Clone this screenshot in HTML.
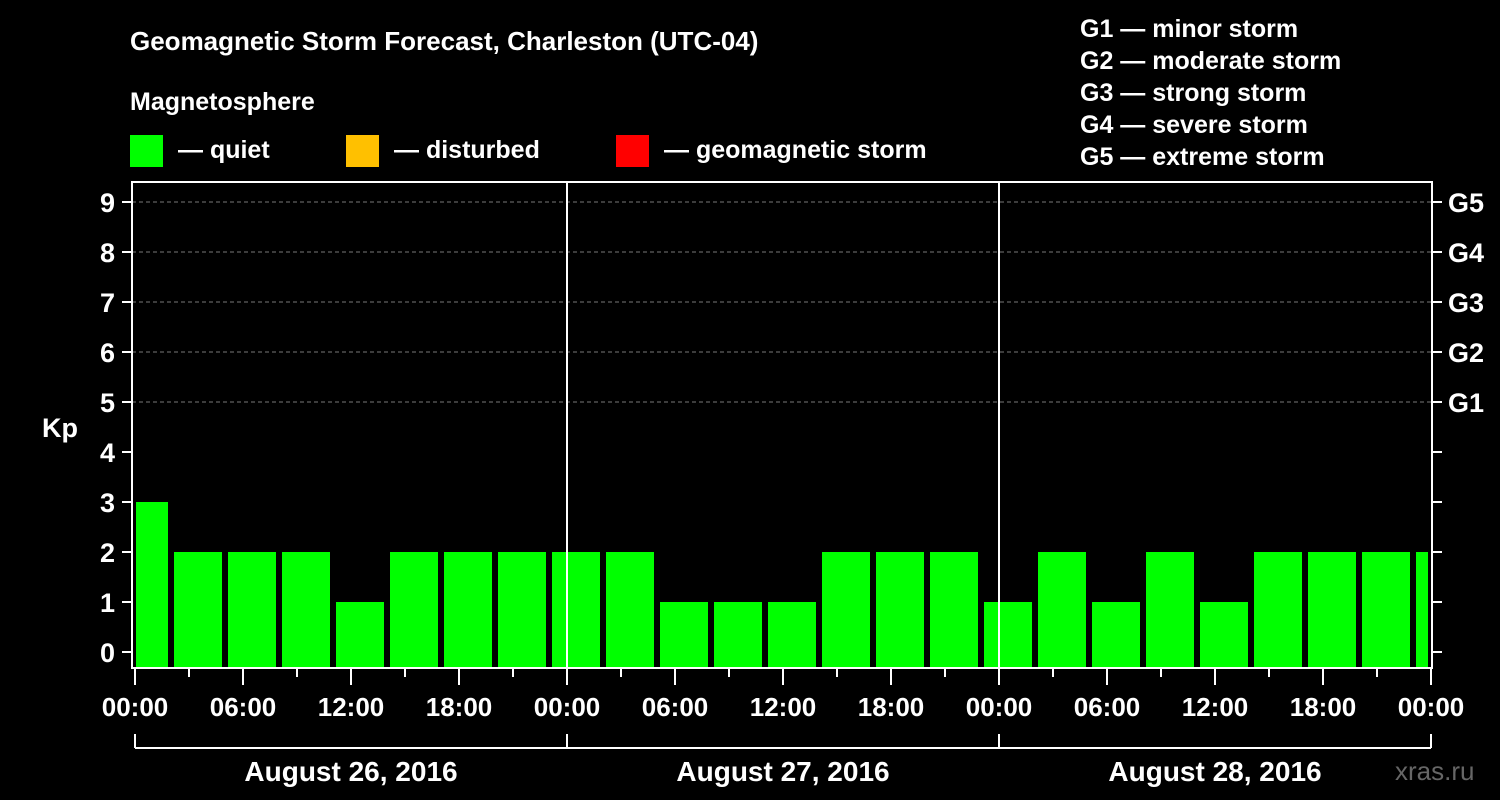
<!DOCTYPE html>
<html><head><meta charset="utf-8"><style>
body{margin:0;background:#000;}
svg{display:block;font-family:"Liberation Sans",sans-serif;font-weight:bold;}
</style></head><body>
<svg width="1500" height="800" viewBox="0 0 1500 800">
<rect width="1500" height="800" fill="#000"/>
<text x="130" y="50" fill="#fff" font-size="26">Geomagnetic Storm Forecast, Charleston (UTC-04)</text>
<text x="130" y="110" fill="#fff" font-size="25">Magnetosphere</text>
<g><rect x="130" y="135" width="33" height="32" fill="#00ff00"/><text x="178" y="158" fill="#fff" font-size="25">— quiet</text></g>
<g><rect x="346" y="135" width="33" height="32" fill="#ffc000"/><text x="394" y="158" fill="#fff" font-size="25">— disturbed</text></g>
<g><rect x="616" y="135" width="33" height="32" fill="#ff0000"/><text x="664" y="158" fill="#fff" font-size="25">— geomagnetic storm</text></g>
<g fill="#fff" font-size="25">
<text x="1080" y="37">G1 — minor storm</text><text x="1080" y="69">G2 — moderate storm</text><text x="1080" y="101">G3 — strong storm</text><text x="1080" y="133">G4 — severe storm</text><text x="1080" y="165">G5 — extreme storm</text>
</g>
<text x="42" y="437" fill="#fff" font-size="27">Kp</text>
<text x="1395" y="780" fill="#666" font-size="26" font-weight="normal">xras.ru</text>
<g id="plot"></g>
</svg>
<script>
const values=[3,2,2,2,1,2,2,2,2,2,1,1,1,2,2,2,1,2,1,2,1,2,2,2,2];
const kpTicks=[0,1,2,3,4,5,6,7,8,9];
const gLabels=["G1","G2","G3","G4","G5"];
const hourLabels=["00:00","06:00","12:00","18:00"];
const dayLabels=["August 26, 2016","August 27, 2016","August 28, 2016"];
const NS="http://www.w3.org/2000/svg";
const g=document.getElementById('plot');
const L=132,R=1432,T=182,B=668;
const x0=135,pxH=18;
const xh=h=>x0+h*pxH;
const y=v=>652-v*50;
function mk(t,a,p){const e=document.createElementNS(NS,t);for(const k in a)e.setAttribute(k,a[k]);(p||g).appendChild(e);return e;}
// grid
kpTicks.forEach(v=>{if(v>=5){const l=mk('line',{x1:L,x2:R,y1:y(v),y2:y(v),stroke:'#777','stroke-dasharray':'4,3','stroke-width':1});

}});
// bars
values.forEach((v,i)=>{let a=xh(3*i-1)+3,b=xh(3*i+2)-3;a=Math.max(a,L+4);b=Math.min(b,R-4);
const r=mk('rect',{x:a,y:y(v),width:b-a,height:B-1-y(v),fill:'#00ff00'});

});
// day separators
for(let d=1;d<3;d++){const l=mk('line',{x1:xh(24*d),x2:xh(24*d),y1:T,y2:B,stroke:'#fff','stroke-width':2});

}
// frame
const f=mk('rect',{x:L,y:T,width:R-L,height:B-T,fill:'none',stroke:'#fff','stroke-width':2});


// y ticks
kpTicks.forEach(v=>{mk('line',{x1:122,x2:L,y1:y(v),y2:y(v),stroke:'#fff','stroke-width':2});
mk('line',{x1:R,x2:1442,y1:y(v),y2:y(v),stroke:'#fff','stroke-width':2});
const t=mk('text',{x:115,y:y(v)+10,fill:'#fff','font-size':27,'text-anchor':'end'});t.textContent=v;


if(v>=5){const gt=mk('text',{x:1448,y:y(v)+10,fill:'#fff','font-size':27});gt.textContent=gLabels[v-5];

}});
// x ticks
for(let h=0;h<=72;h+=3){const maj=h%6==0;mk('line',{x1:xh(h),x2:xh(h),y1:B,y2:B+(maj?17:9),stroke:'#fff','stroke-width':2});
if(maj&&h%24!=0||h%24==0){}
if(h%6==0){const t=mk('text',{x:xh(h),y:716,fill:'#fff','font-size':26,'text-anchor':'middle'});t.textContent=hourLabels[(h%24)/6];

}}
// day bracket
mk('line',{x1:xh(0),x2:xh(72),y1:748,y2:748,stroke:'#fff','stroke-width':2});
for(let d=0;d<=3;d++)mk('line',{x1:xh(24*d),x2:xh(24*d),y1:734,y2:748,stroke:'#fff','stroke-width':2});
dayLabels.forEach((s,d)=>{const t=mk('text',{x:xh(24*d+12),y:781,fill:'#fff','font-size':28,'text-anchor':'middle'});t.textContent=s;

});
</script>
</body></html>
